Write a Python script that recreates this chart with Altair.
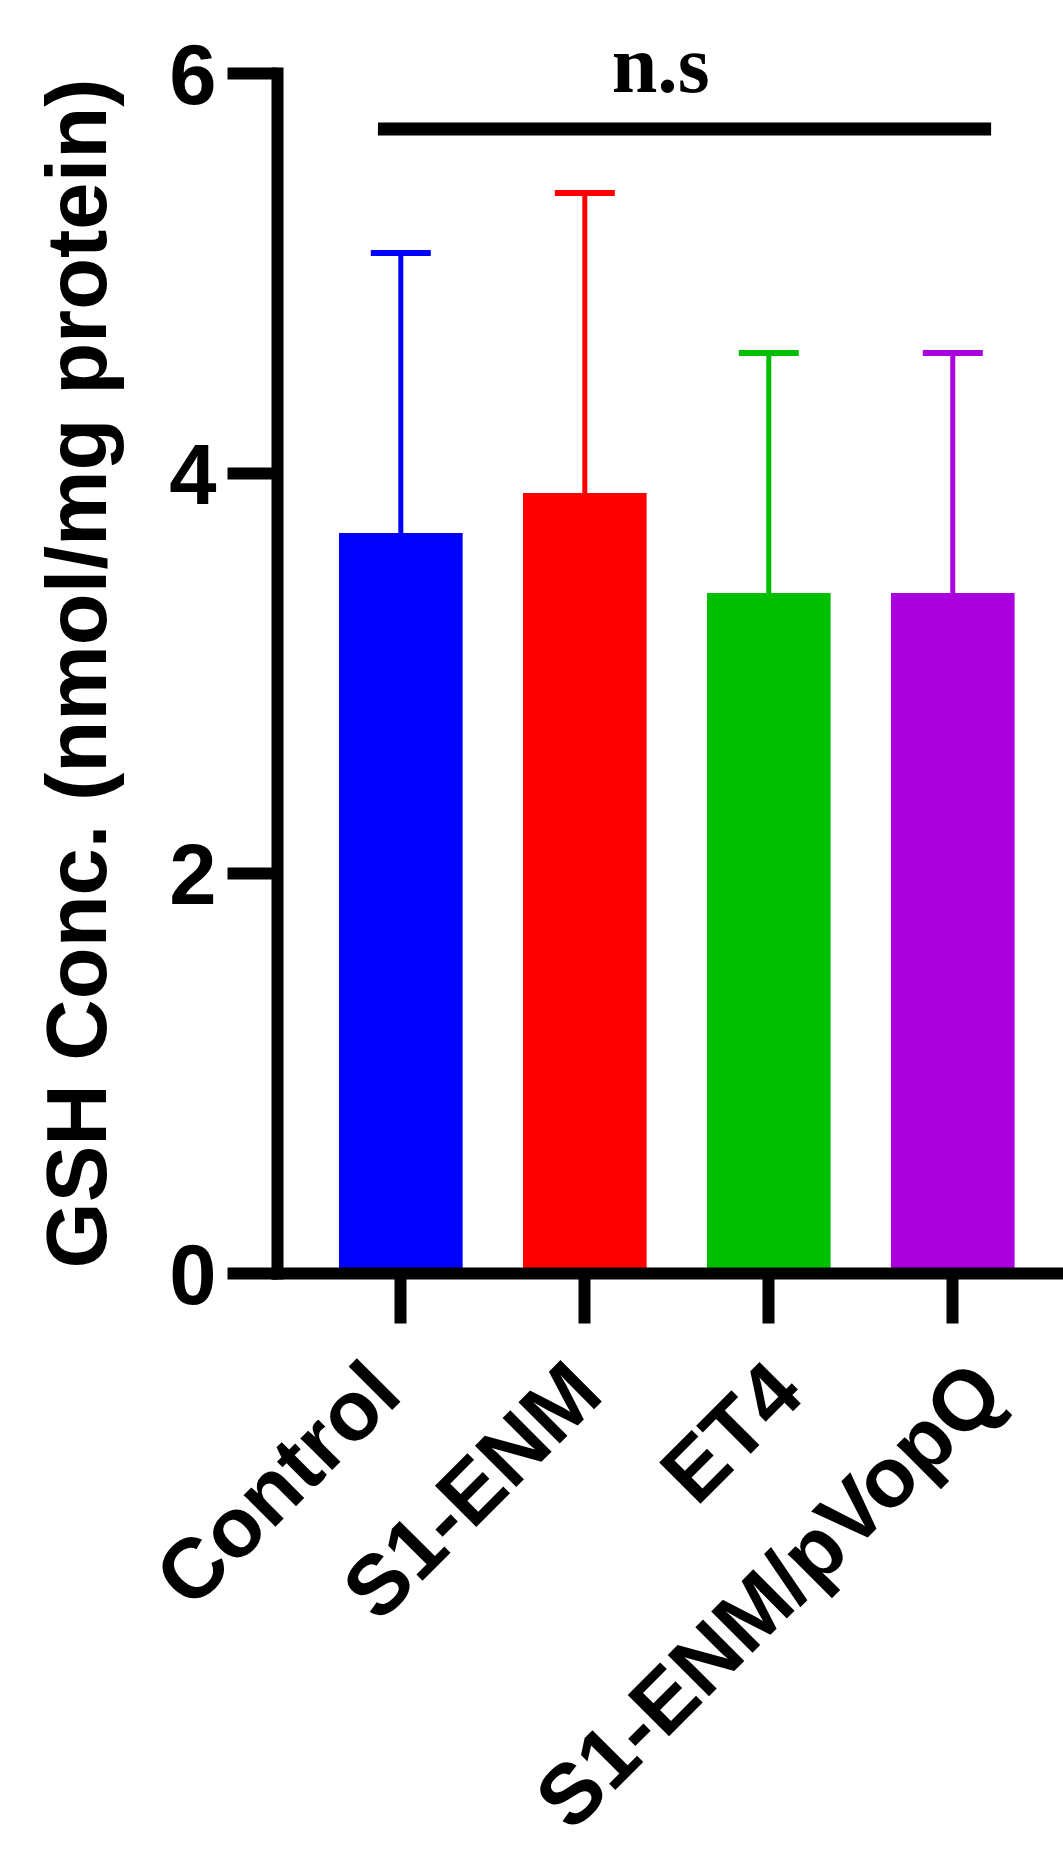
import altair as alt
import pandas as pd

# Group means and standard deviations of GSH concentration
groups = ["Control", "S1-ENM", "ET4", "S1-ENM/pVopQ"]
means = [3.7, 3.9, 3.4, 3.4]
sds = [1.4, 1.5, 1.2, 1.2]
colors = ["#0000FF", "#FF0000", "#00BE00", "#AA00DD"]

# Significance bracket spanning all groups
bracket_from = ["Control"]
bracket_to = ["S1-ENM/pVopQ"]
bracket_level = [5.72]
sig_label = ["n.s"]
sig_level = [5.906]

df = pd.DataFrame({"group": groups, "mean": means, "sd": sds})
df["upper"] = df["mean"] + df["sd"]

bracket_df = pd.DataFrame({"group": bracket_from, "group_end": bracket_to, "level": bracket_level})
label_df = pd.DataFrame({"group": ["S1-ENM"], "level": sig_level, "label": sig_label})

SANS = "Liberation Sans"
SERIF = "Liberation Serif"

x_scale = alt.Scale(domain=groups, paddingInner=0.328, paddingOuter=0.3,
                    align=0.5616, round=False)
y_scale = alt.Scale(domain=[0, 6], nice=False, zero=True)
color_scale = alt.Scale(domain=groups, range=colors)

x_axis = alt.Axis(
    title=None, labelAngle=-45, labelAlign="right", labelBaseline="alphabetic",
    labelFont=SANS, labelFontSize=85, labelFontWeight="bold", labelColor="black",
    labelPadding=74, labelOffset={"expr": "4 + 51 * datum.index"},
    labelLimit=0, labelOverlap=False, labelBound=False,
    tickSize=50, tickWidth=12, tickColor="black",
    domainWidth=12, domainColor="black", domainCap="square",
    grid=False, zindex=1,
)

y_axis = alt.Axis(
    values=[0, 2, 4, 6], format="d",
    title="GSH Conc. (nmol/mg protein)", titleFont=SANS, titleFontSize=85,
    titleFontWeight="bold", titleColor="black", titleAngle=270,
    titleBaseline="alphabetic", titleAlign="center", titleX=-172, titleY=600,
    labelFont=SANS, labelFontSize=85, labelFontWeight="bold", labelColor="black",
    labelPadding=11, labelOffset=4, labelAlign="right", labelBaseline="middle",
    tickSize=50, tickWidth=12, tickColor="black",
    domainWidth=12, domainColor="black", domainCap="square",
    grid=False, zindex=1,
)

x_enc = alt.X("group:N", scale=x_scale, sort=groups, axis=x_axis)
color_enc = alt.Color("group:N", scale=color_scale, legend=None)

base = alt.Chart(df)

bars = base.mark_bar().encode(
    x=x_enc,
    y=alt.Y("mean:Q", scale=y_scale, axis=y_axis),
    color=color_enc,
)

whiskers = base.mark_rule(strokeWidth=5).encode(
    x=x_enc,
    y=alt.Y("mean:Q"),
    y2=alt.Y2("upper:Q"),
    color=color_enc,
)

caps = base.mark_tick(orient="horizontal", size=60, thickness=6, opacity=1).encode(
    x=x_enc,
    y=alt.Y("upper:Q"),
    color=color_enc,
)

bracket = alt.Chart(bracket_df).mark_rule(strokeWidth=13, color="black", strokeCap="butt").encode(
    x=alt.X("group:N", bandPosition=0.315, scale=x_scale, axis=x_axis),
    x2=alt.X2("group_end:N", bandPosition=0.81),
    y=alt.Y("level:Q"),
)

sig_text = alt.Chart(label_df).mark_text(
    font=SERIF, fontSize=82, fontWeight="bold", color="black",
    align="center", baseline="alphabetic", dx=14,
).encode(
    x=alt.X("group:N", bandPosition=1, scale=x_scale, axis=x_axis),
    y=alt.Y("level:Q"),
    text="label:N",
)

chart = alt.layer(bars, whiskers, caps, bracket, sig_text).properties(
    width=786,
    height=1200,
    autosize=alt.AutoSizeParams(type="none"),
    padding={"left": 277, "top": 73, "right": 0, "bottom": 583},
    background="white",
).configure_view(stroke=None)

chart.save("out.html", embed_options={"renderer": "svg", "actions": False})
